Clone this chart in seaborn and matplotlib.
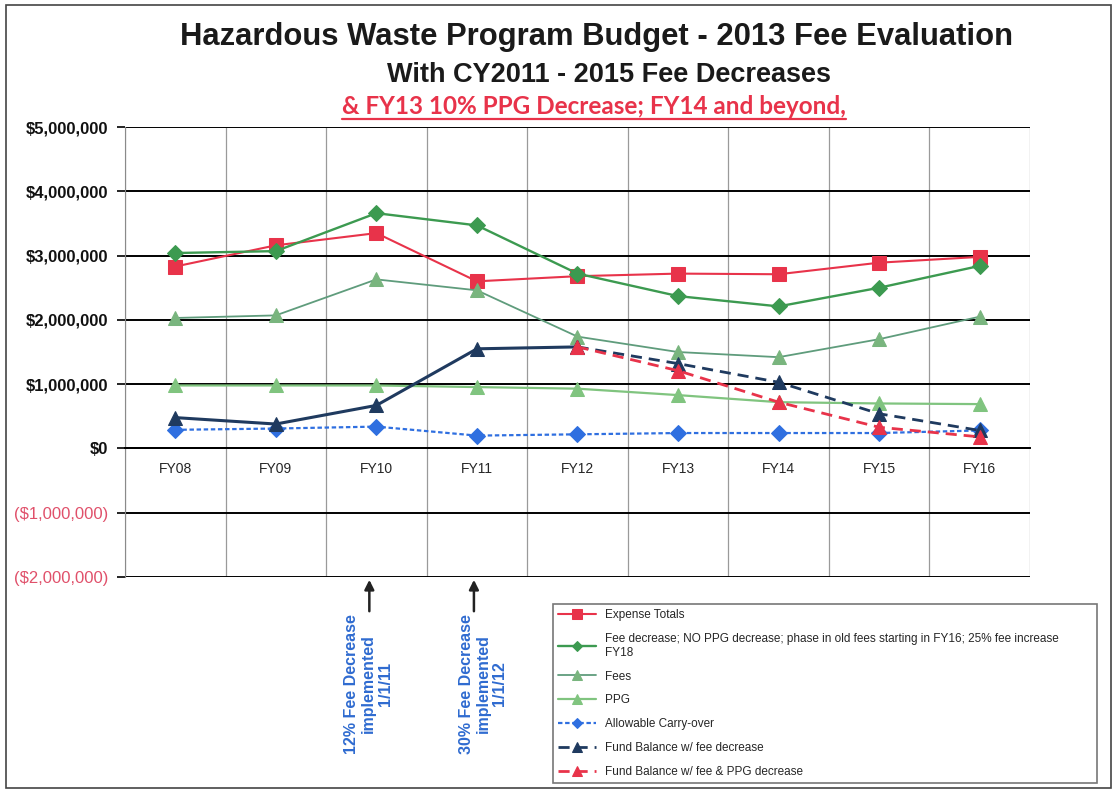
import numpy as np
import matplotlib.pyplot as plt
import matplotlib.transforms as mtransforms
from matplotlib.patches import Rectangle
from matplotlib.lines import Line2D
import seaborn as sns

# ── data ────────────────────────────────────────────────────
years = ['FY08', 'FY09', 'FY10', 'FY11', 'FY12', 'FY13', 'FY14', 'FY15', 'FY16']
expense_totals = [2830000, 3160000, 3350000, 2600000, 2680000, 2720000, 2710000, 2890000, 2980000]
fee_decrease_no_ppg = [3040000, 3070000, 3660000, 3470000, 2720000, 2370000, 2210000, 2500000, 2840000]
fees = [2030000, 2070000, 2630000, 2460000, 1740000, 1500000, 1420000, 1700000, 2050000]
ppg = [980000, 980000, 980000, 955000, 930000, 830000, 720000, 700000, 690000]
carry_over = [290000, 310000, 340000, 200000, 220000, 240000, 240000, 240000, 280000]
fund_hist_years = ['FY08', 'FY09', 'FY10', 'FY11', 'FY12']
fund_hist = [480000, 380000, 670000, 1550000, 1580000]
proj_years = ['FY12', 'FY13', 'FY14', 'FY15', 'FY16']
fund_fee_dec = [1580000, 1320000, 1030000, 540000, 280000]
fund_fee_ppg_dec = [1580000, 1210000, 720000, 330000, 180000]

ytick_vals = [-2000000, -1000000, 0, 1000000, 2000000, 3000000, 4000000, 5000000]

notes = ['12% Fee Decrease\nimplemented\n1/1/11', '30% Fee Decrease\nimplemented\n1/1/12']
note_arrow_x = [1.93, 2.97]
note_text_x = [1.92, 3.06]

RED = '#e8334a'
GREEN = '#3c9a50'
FEES_LINE = '#5f9c7c'
FEES_MK = '#79b57e'
PPG_C = '#80c47f'
BLUE = '#2f6fe0'
NAVY = '#1f3a5f'
NOTE_BLUE = '#2f6bd0'

sns.set_style('white')
plt.rcParams['font.family'] = ['Liberation Sans', 'DejaVu Sans']

fig = plt.figure(figsize=(11.17, 7.91), dpi=100)
ax = fig.add_axes([0.1119, 0.2705, 0.8102, 0.5689])

pos = {y: i for i, y in enumerate(years)}
x = [pos[y] for y in years]
xh = [pos[y] for y in fund_hist_years]
xp = [pos[y] for y in proj_years]

sns.lineplot(x=x, y=expense_totals, ax=ax, color=RED, lw=1.5, marker='s', markersize=10,
             markeredgecolor=RED, label='Expense Totals')
sns.lineplot(x=x, y=fee_decrease_no_ppg, ax=ax, color=GREEN, lw=1.7, marker='D', markersize=8,
             markeredgecolor=GREEN,
             label='Fee decrease; NO PPG decrease; phase in old fees starting in FY16; 25% fee increase\nFY18')
sns.lineplot(x=x, y=fees, ax=ax, color=FEES_LINE, lw=1.3, marker='^', markersize=10,
             markerfacecolor=FEES_MK, markeredgecolor=FEES_MK, label='Fees')
sns.lineplot(x=x, y=ppg, ax=ax, color=PPG_C, lw=1.6, marker='^', markersize=10,
             markeredgecolor=PPG_C, label='PPG')
sns.lineplot(x=x, y=carry_over, ax=ax, color=BLUE, lw=1.6, ls=(0, (2, 1.2)), marker='D', markersize=8,
             markeredgecolor=BLUE, label='Allowable Carry-over')
sns.lineplot(x=xh, y=fund_hist, ax=ax, color=NAVY, lw=2.2, marker='^', markersize=10,
             markeredgecolor=NAVY, label='_hist')
sns.lineplot(x=xp, y=fund_fee_dec, ax=ax, color=NAVY, lw=2.0, ls=(0, (4, 2.5)), marker='^', markersize=10,
             markeredgecolor=NAVY, label='Fund Balance w/ fee decrease')
sns.lineplot(x=xp, y=fund_fee_ppg_dec, ax=ax, color=RED, lw=2.0, ls=(0, (4, 2.5)), marker='^', markersize=10,
             markeredgecolor=RED, label='Fund Balance w/ fee & PPG decrease')

# axes, Excel style: category axis crossing at $0
ax.set_xlim(-0.5, len(years) - 0.5)
ax.set_ylim(-2000000, 5000000)
ax.set_xticks(x)
ax.set_xticklabels(years, fontsize=10.5, family=['Lato', 'DejaVu Sans'])
ax.set_xticks(np.arange(-0.5, len(years), 1), minor=True)
ax.tick_params(axis='x', which='both', length=0, pad=10)
ax.set_yticks(ytick_vals)
ylabels = []
for v in ytick_vals:
    if v < 0:
        ylabels.append(f'(${-v:,.0f})')
    else:
        ylabels.append(f'${v:,.0f}')
ax.set_yticklabels(ylabels, fontsize=12, fontweight='bold')
for lab, v in zip(ax.get_yticklabels(), ytick_vals):
    lab.set_color('#e0506a' if v < 0 else '#111111')
    if v < 0:
        lab.set_fontweight('normal')
ax.tick_params(axis='y', length=6, width=1.2, color='black', pad=6, left=True)
ax.set_xlabel('')
ax.set_ylabel('')

ax.grid(axis='y', which='major', color='black', lw=1.4)
ax.grid(axis='x', which='minor', color='#9a9a9a', lw=0.9)
ax.grid(axis='x', which='major', visible=False)
ax.set_axisbelow(True)
for s in ['top', 'right']:
    ax.spines[s].set_visible(False)
ax.spines['left'].set_color('#8a8a8a')
ax.spines['bottom'].set_position(('data', 0))
ax.spines['bottom'].set_color('black')
ax.spines['bottom'].set_linewidth(1.4)

# legend below the plot
handles, labels = ax.get_legend_handles_labels()
ax.get_legend().remove()
leg = fig.legend(handles, labels, loc='upper left',
                 bbox_to_anchor=(547 / 1117, 1 - 598 / 791, 556 / 1117, 0.0),
                 mode='expand', frameon=True, fancybox=False,
                 edgecolor='#555555', handlelength=3.2, labelspacing=1.0,
                 borderpad=0.45, markerscale=0.7,
                 prop={'family': ['Liberation Sans', 'DejaVu Sans'], 'size': 8.5})
leg.get_frame().set_linewidth(1.2)

# fee decrease notes with arrows
blend = mtransforms.blended_transform_factory(ax.transData, fig.transFigure)
for ax_x, tx, note in zip(note_arrow_x, note_text_x, notes):
    ax.annotate('', xy=(ax_x, -2000000), xytext=(ax_x, 1 - 614 / 791), textcoords=blend,
                arrowprops=dict(arrowstyle='-|>', color='#222222', lw=1.8, mutation_scale=14),
                annotation_clip=False)
    ax.text(tx, 1 - 684 / 791, note, transform=blend, rotation=90, ha='center', va='center',
            multialignment='center', color=NOTE_BLUE, fontsize=11.5, fontweight='bold',
            linespacing=1.15)

# titles
fig.text(0.5336, 1 - 37 / 791, 'Hazardous Waste Program Budget - 2013 Fee Evaluation',
         ha='center', va='center', fontsize=22.3, fontweight='bold', color='#1a1a1a')
fig.text(0.545, 1 - 75 / 791, 'With CY2011 - 2015 Fee Decreases',
         ha='center', va='center', fontsize=19.5, fontweight='bold', color='#1a1a1a')
t3 = fig.text(0.532, 1 - 106 / 791, '& FY13 10% PPG Decrease; FY14 and beyond,',
              ha='center', va='center', fontsize=17.5, fontweight='bold', color=RED,
              family=['Lato', 'DejaVu Sans'])
fig.canvas.draw()
bb = t3.get_window_extent(renderer=fig.canvas.get_renderer()).transformed(fig.transFigure.inverted())
fig.add_artist(Line2D([bb.x0, bb.x1], [bb.y0 - 0.002, bb.y0 - 0.002], transform=fig.transFigure,
                      color=RED, lw=1.6))

# page frame of the scanned chart
fig.add_artist(Rectangle((0.005, 0.004), 0.99, 0.99, transform=fig.transFigure, fill=False,
                         edgecolor='#444444', lw=1.2))

fig.savefig('out.png', dpi=100)
